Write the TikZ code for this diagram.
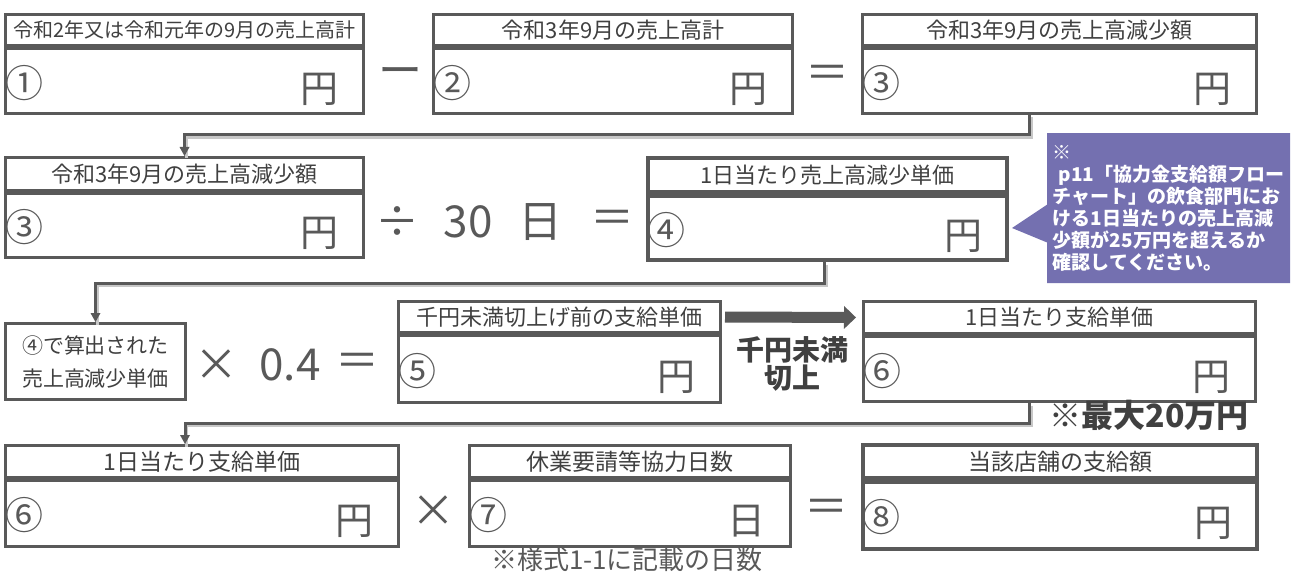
\documentclass[tikz,border=0pt]{standalone}
\usepackage{fontspec}
\setmainfont{Noto Sans CJK JP}
\usetikzlibrary{arrows.meta,shapes.callouts,calc}
\definecolor{linegray}{HTML}{595959}
\definecolor{txtgray}{HTML}{404040}
\definecolor{calloutpurple}{HTML}{7470B0}
\newcommand{\resultbox}[9]{%
  \node[headbox,line width=#9,minimum width=#3pt,minimum height=#4pt] (#1t) at (#2) {#6};
  \node[bodybox,line width=#9,minimum width=#3pt,minimum height=#5pt] (#1) at (#1t.south west) {};
  \node[numtext,anchor=west] (#1n) at ([xshift=1pt,yshift=-2pt]#1.west) {#7};
  \node[unittext,anchor=east] (#1u) at ([xshift=-26pt,yshift=-8pt]#1.east) {#8};
}
\newcommand{\tsize}[1]{\fontsize{#1}{#1}\selectfont}
\begin{document}
\begin{tikzpicture}[x=1pt,y=-1pt,
  frame/.style={draw=linegray,line width=3pt,inner sep=0pt,anchor=north west},
  headbox/.style={frame,font=\fontsize{22pt}{24pt}\selectfont,text=txtgray},
  bodybox/.style={frame},
  numtext/.style={inner sep=0pt,font=\fontsize{38pt}{38pt}\selectfont,text=linegray},
  unittext/.style={inner sep=0pt,font=\fontsize{38pt}{38pt}\selectfont,text=linegray},
  op/.style={inner sep=0pt,font=\fontsize{44pt}{44pt}\selectfont,text=linegray},
  conn/.style={draw=linegray,line width=3pt,
    preaction={draw=black!22,line width=3pt,-,transform canvas={xshift=1.5pt,yshift=-2.5pt}},
    -{Triangle[width=10pt,length=9pt,line width=0pt]}},
  bigarrow/.style={draw=linegray,line width=11pt,
    -{Triangle[width=23pt,length=12pt,line width=0pt]},shorten <=3pt,shorten >=6pt},
  boldnote/.style={inner sep=0pt,text=txtgray,font=\fontsize{28pt}{28pt}\selectfont\bfseries},
  plainnote/.style={inner sep=0pt,text=linegray,font=\fontsize{26pt}{26pt}\selectfont},
]
\fill[white] (0,0) rectangle (1312,572);
\useasboundingbox (0,0) rectangle (1312,572);

% row 1
\resultbox{b1}{4,13}{358}{31}{65}{\tsize{20pt}令和2年又は令和元年の9月の売上高計}{①}{円}{3pt}
\resultbox{b2}{432,13}{359}{31}{65}{令和3年9月の売上高計}{②}{円}{3pt}
\resultbox{b3}{861,13}{394}{31}{65}{令和3年9月の売上高減少額}{③}{円}{3pt}
\node[op] (op1) at (400,77) {ー};
\node[op] (op2) at (827,77) {＝};

% row 2
\resultbox{b3b}{4,156}{358}{33}{64}{令和3年9月の売上高減少額}{③}{円}{3pt}
\resultbox{b4}{646,156}{359}{34}{64}{1日当たり売上高減少単価}{④}{円}{4pt}
\node[op] (op3) at (397,222) {÷};
\node[op] (op4) at (468,222) {30};
\node[op] (op5) at (540,222) {日};
\node[op] (op6) at (612,222) {＝};

% callout
\node[rectangle callout,fill=calloutpurple,anchor=north west,
      minimum width=243pt,minimum height=150pt,inner sep=0pt,
      callout absolute pointer={([xshift=3pt]b4.east)},callout pointer width=38pt,
      text=white,align=left,font=\fontsize{19pt}{22pt}\selectfont\bfseries] (note) at (1047,133)
  {※\\\hspace*{6pt}p11「協力金支給額フロー\\チャート」の飲食部門にお\\ける1日当たりの売上高減\\少額が25万円を超えるか\\確認してください。};

% row 3
\node[frame,minimum width=180pt,minimum height=76pt,align=center,text=txtgray,
      font=\fontsize{21pt}{33pt}\selectfont] (bs) at (4,322) {④で算出された\\売上高減少単価};
\node[op] (op7) at (216,365) {×};
\node[op] (op8) at (290,365) {0.4};
\node[op] (op9) at (357,365) {＝};
\resultbox{b5}{397,300}{322}{31}{67}{千円未満切上げ前の支給単価}{⑤}{円}{3pt}
\resultbox{b6}{862,300}{392}{32}{65}{1日当たり支給単価}{⑥}{円}{3pt}
\node[boldnote] (round1) at (792,350) {千円未満};
\node[boldnote] (round2) at (792,378) {切上};
\node[boldnote,font=\fontsize{32pt}{32pt}\selectfont\bfseries] (maxnote) at (1149,415) {※最大20万円};

% row 4
\resultbox{b6b}{4,444}{393}{32}{66}{\tsize{23pt}1日当たり支給単価}{⑥}{円}{3pt}
\resultbox{b7}{468,444}{321}{32}{66}{\tsize{23pt}休業要請等協力日数}{⑦}{日}{3pt}
\resultbox{b8}{861,443}{394}{33}{67}{\tsize{23pt}当該店舗の支給額}{⑧}{円}{4pt}
\node[op] (op10) at (433,511) {×};
\node[op] (op11) at (826,511) {＝};
\node[plainnote] (daysnote) at (627,560) {※様式1-1に記載の日数};

% connectors
\draw[conn] ([xshift=-30pt]b3.south) -- ++(0,20) -| (b3bt.north);
\draw[conn] ([xshift=-3pt]b4.south) -- ++(0,21) -| (bs.north);
\draw[conn] ([xshift=-30pt]b6.south) -- ++(0,20) -| ([xshift=-17pt]b6bt.north);
\draw[bigarrow] (b5t.east) -- (b6t.west);
\end{tikzpicture}
\end{document}
